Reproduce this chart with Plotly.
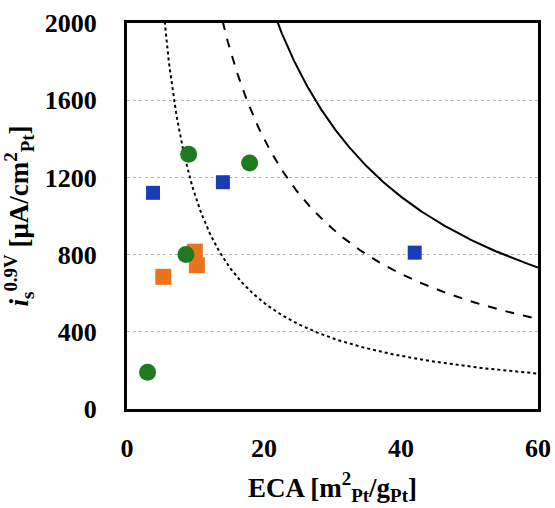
import numpy as np
import plotly.graph_objects as go

# Data points (ECA [m2/g], i_s [uA/cm2])
blue_x = [3.8, 14.0, 42.0]
blue_y = [1120, 1175, 810]
orange_x = [5.3, 9.9, 10.2]
orange_y = [685, 815, 745]
green_x = [9.0, 17.9, 8.6, 3.0]
green_y = [1320, 1275, 800, 190]

# iso mass-activity curves: i_s * ECA = const  (uA/cm2 * m2/g)
curve_consts = [44000, 28000, 11000]
curve_dash = ["solid", "dash", "dot"]

fig = go.Figure()
for c, d in zip(curve_consts, curve_dash):
    xs = np.linspace(c / 2100, 60, 400)
    fig.add_trace(go.Scatter(x=xs, y=c / xs, mode="lines",
                             line=dict(color="black", width=2, dash=d),
                             hoverinfo="skip", showlegend=False))

fig.add_trace(go.Scatter(x=orange_x, y=orange_y, mode="markers",
                         marker=dict(symbol="square", size=16, color="#e8741e"),
                         showlegend=False))
fig.add_trace(go.Scatter(x=blue_x, y=blue_y, mode="markers",
                         marker=dict(symbol="square", size=14, color="#1a3db5"),
                         showlegend=False))
fig.add_trace(go.Scatter(x=green_x, y=green_y, mode="markers",
                         marker=dict(symbol="circle", size=17, color="#1f7a1f"),
                         showlegend=False))

font_family = "Liberation Serif, Times New Roman, serif"
fig.update_layout(
    width=555, height=508,
    margin=dict(l=127, r=17, t=23, b=99, autoexpand=False),
    plot_bgcolor="white", paper_bgcolor="white",
    font=dict(family=font_family, color="black", size=26),
    xaxis=dict(range=[0, 60], tickvals=[0, 20, 40, 60], showgrid=False,
               showline=True, linecolor="black", linewidth=3, mirror=True,
               ticks="", zeroline=False, ticklabelstandoff=14, automargin=False,
               tickfont=dict(family=font_family, size=26, weight="bold"),
               title=dict(text="<b>ECA [m<sup>2</sup><sub>Pt</sub>/g<sub>Pt</sub>]</b>",
                          font=dict(family=font_family, size=27), standoff=16)),
    yaxis=dict(range=[0, 2000], tickvals=[0, 400, 800, 1200, 1600, 2000],
               showgrid=True, gridcolor="#b8b8b8", griddash="dot", gridwidth=1,
               showline=True, linecolor="black", linewidth=3, mirror=True,
               ticks="", zeroline=False, ticklabelstandoff=22, automargin=False,
               tickfont=dict(family=font_family, size=26, weight="bold"),
               title=dict(text="<b><i>i</i><sub>s</sub><sup>0.9V</sup> [μA/cm<sup>2</sup><sub>Pt</sub>]</b>",
                          font=dict(family=font_family, size=27), standoff=10)),
)

fig.write_html("out.html")
